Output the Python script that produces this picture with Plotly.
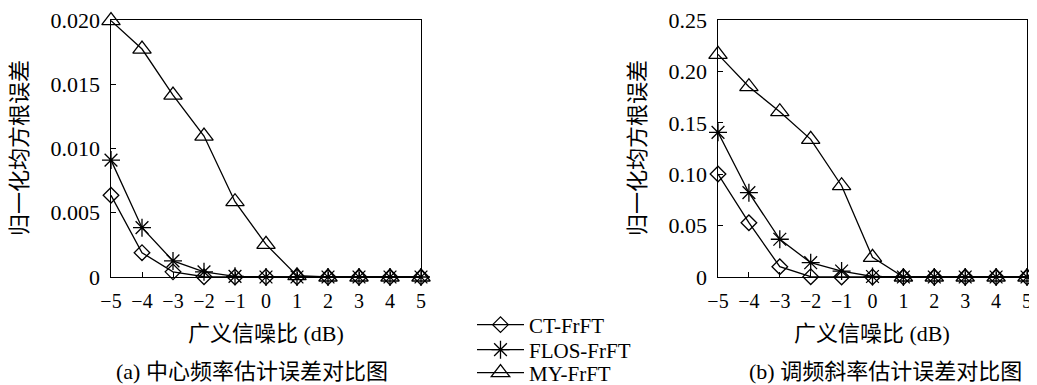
import plotly.graph_objects as go

snr = [-5, -4, -3, -2, -1, 0, 1, 2, 3, 4, 5]
x_ticktext = ["−5", "−4", "−3", "−2", "−1", "0", "1", "2", "3", "4", "5"]

# (a) centre frequency error
a_ct = [0.00636, 0.00189, 0.00040, 0.00002, 0.0, 0.0, 0.0, 0.0, 0.0, 0.0, 0.0]
a_flos = [0.00910, 0.00384, 0.00125, 0.00040, 0.00005, 0.0, 0.0, 0.0, 0.0, 0.0, 0.0]
a_my = [0.01995, 0.01774, 0.01416, 0.01097, 0.00586, 0.00254, 0.00010, 0.0, 0.0, 0.0, 0.0]

# (b) chirp rate error
b_ct = [0.1002, 0.0528, 0.0100, 0.0003, 0.0, 0.0, 0.0, 0.0, 0.0, 0.0, 0.0]
b_flos = [0.1407, 0.0820, 0.0367, 0.0139, 0.0058, 0.0005, 0.0, 0.0, 0.0, 0.0, 0.0]
b_my = [0.2166, 0.1851, 0.1608, 0.1339, 0.0888, 0.0191, 0.0, 0.0, 0.0, 0.0, 0.0]

a_yticks = [0, 0.005, 0.010, 0.015, 0.020]
a_yticktext = ["0", "0.005", "0.010", "0.015", "0.020"]
b_yticks = [0, 0.05, 0.10, 0.15, 0.20, 0.25]
b_yticktext = ["0", "0.05", "0.10", "0.15", "0.20", "0.25"]

names = ["CT-FrFT", "FLOS-FrFT", "MY-FrFT"]
symbols = ["diamond-open", "asterisk-open", "triangle-up-open"]
sizes = [12, 15, 16]
legend_ids = ["legend", "legend2", "legend3"]
legend_rows = [325, 350, 373]

SERIF = "Liberation Serif, serif"
MIXED = "Liberation Serif, Noto Sans CJK SC"

# the page body has an 8px margin; the figure is laid out in its own pixels
W, H = 1029, 385
OFF = 8


def px(xr):
    return (xr - OFF) / W


def py(yr):
    return 1 - (yr - OFF) / H


fig = go.Figure()
for i, (ya, yb) in enumerate([(a_ct, b_ct), (a_flos, b_flos), (a_my, b_my)]):
    common = dict(mode="lines+markers",
                  line=dict(color="black", width=1.3),
                  marker=dict(symbol=symbols[i], size=sizes[i], color="black",
                              line=dict(color="black", width=1.3)),
                  cliponaxis=False)
    fig.add_trace(go.Scatter(x=snr, y=ya, name=names[i], xaxis="x", yaxis="y",
                             showlegend=True, legend=legend_ids[i], **common))
    fig.add_trace(go.Scatter(x=snr, y=yb, name=names[i], xaxis="x2", yaxis="y2",
                             showlegend=False, **common))

ybot, ytop = py(277), py(20)

axis_common = dict(showgrid=False, zeroline=False, showline=True, linecolor="black",
                   linewidth=1.3, mirror=True, ticks="inside", ticklen=5,
                   tickcolor="black", tickwidth=1.2, automargin=False,
                   ticklabeloverflow="allow")
xfont = dict(family=SERIF, size=20, color="black")
yfont = dict(family=SERIF, size=22, color="black")
PAD = "\u00a0"

legend_style = dict(xanchor="left", yanchor="middle",
                    font=dict(family=SERIF, size=21, color="black"),
                    bgcolor="rgba(0,0,0,0)", itemwidth=47)

fig.update_layout(
    width=W, height=H,
    margin=dict(l=0, r=0, t=0, b=0, autoexpand=False),
    paper_bgcolor="white", plot_bgcolor="white",
    xaxis=dict(domain=[px(111), px(421)], range=[-5, 5], anchor="y",
               tickvals=snr, ticktext=x_ticktext, ticklabelstandoff=6,
               tickfont=xfont, **axis_common),
    yaxis=dict(domain=[ybot, ytop], range=[0, 0.020], anchor="x",
               tickvals=a_yticks, ticktext=[t + PAD for t in a_yticktext],
               tickfont=yfont, **axis_common),
    xaxis2=dict(domain=[px(718), px(1027)], range=[-5, 5], anchor="y2",
                tickvals=snr, ticktext=x_ticktext, ticklabelstandoff=6,
                tickfont=xfont, **axis_common),
    yaxis2=dict(domain=[ybot, ytop], range=[0, 0.25], anchor="x2",
                tickvals=b_yticks, ticktext=[t + PAD for t in b_yticktext],
                tickfont=yfont, **axis_common),
    legend=dict(x=px(472), y=py(legend_rows[0]), **legend_style),
    legend2=dict(x=px(472), y=py(legend_rows[1]), **legend_style),
    legend3=dict(x=px(472), y=py(legend_rows[2]), **legend_style),
    showlegend=True,
)

annotations = [
    dict(text="归一化均方根误差", x=px(19), y=py(148), textangle=-90),
    dict(text="归一化均方根误差", x=px(637), y=py(148), textangle=-90),
    dict(text="广义信噪比 (dB)", x=px(266), y=py(333)),
    dict(text="广义信噪比 (dB)", x=px(872), y=py(333)),
    dict(text="(a) 中心频率估计误差对比图", x=px(252), y=py(371)),
    dict(text="(b) 调频斜率估计误差对比图", x=px(885), y=py(371)),
]
for a in annotations:
    fig.add_annotation(xref="paper", yref="paper", showarrow=False,
                       xanchor="center", yanchor="middle",
                       font=dict(family=MIXED, size=22, color="black"), **a)

fig.write_html("out.html")
